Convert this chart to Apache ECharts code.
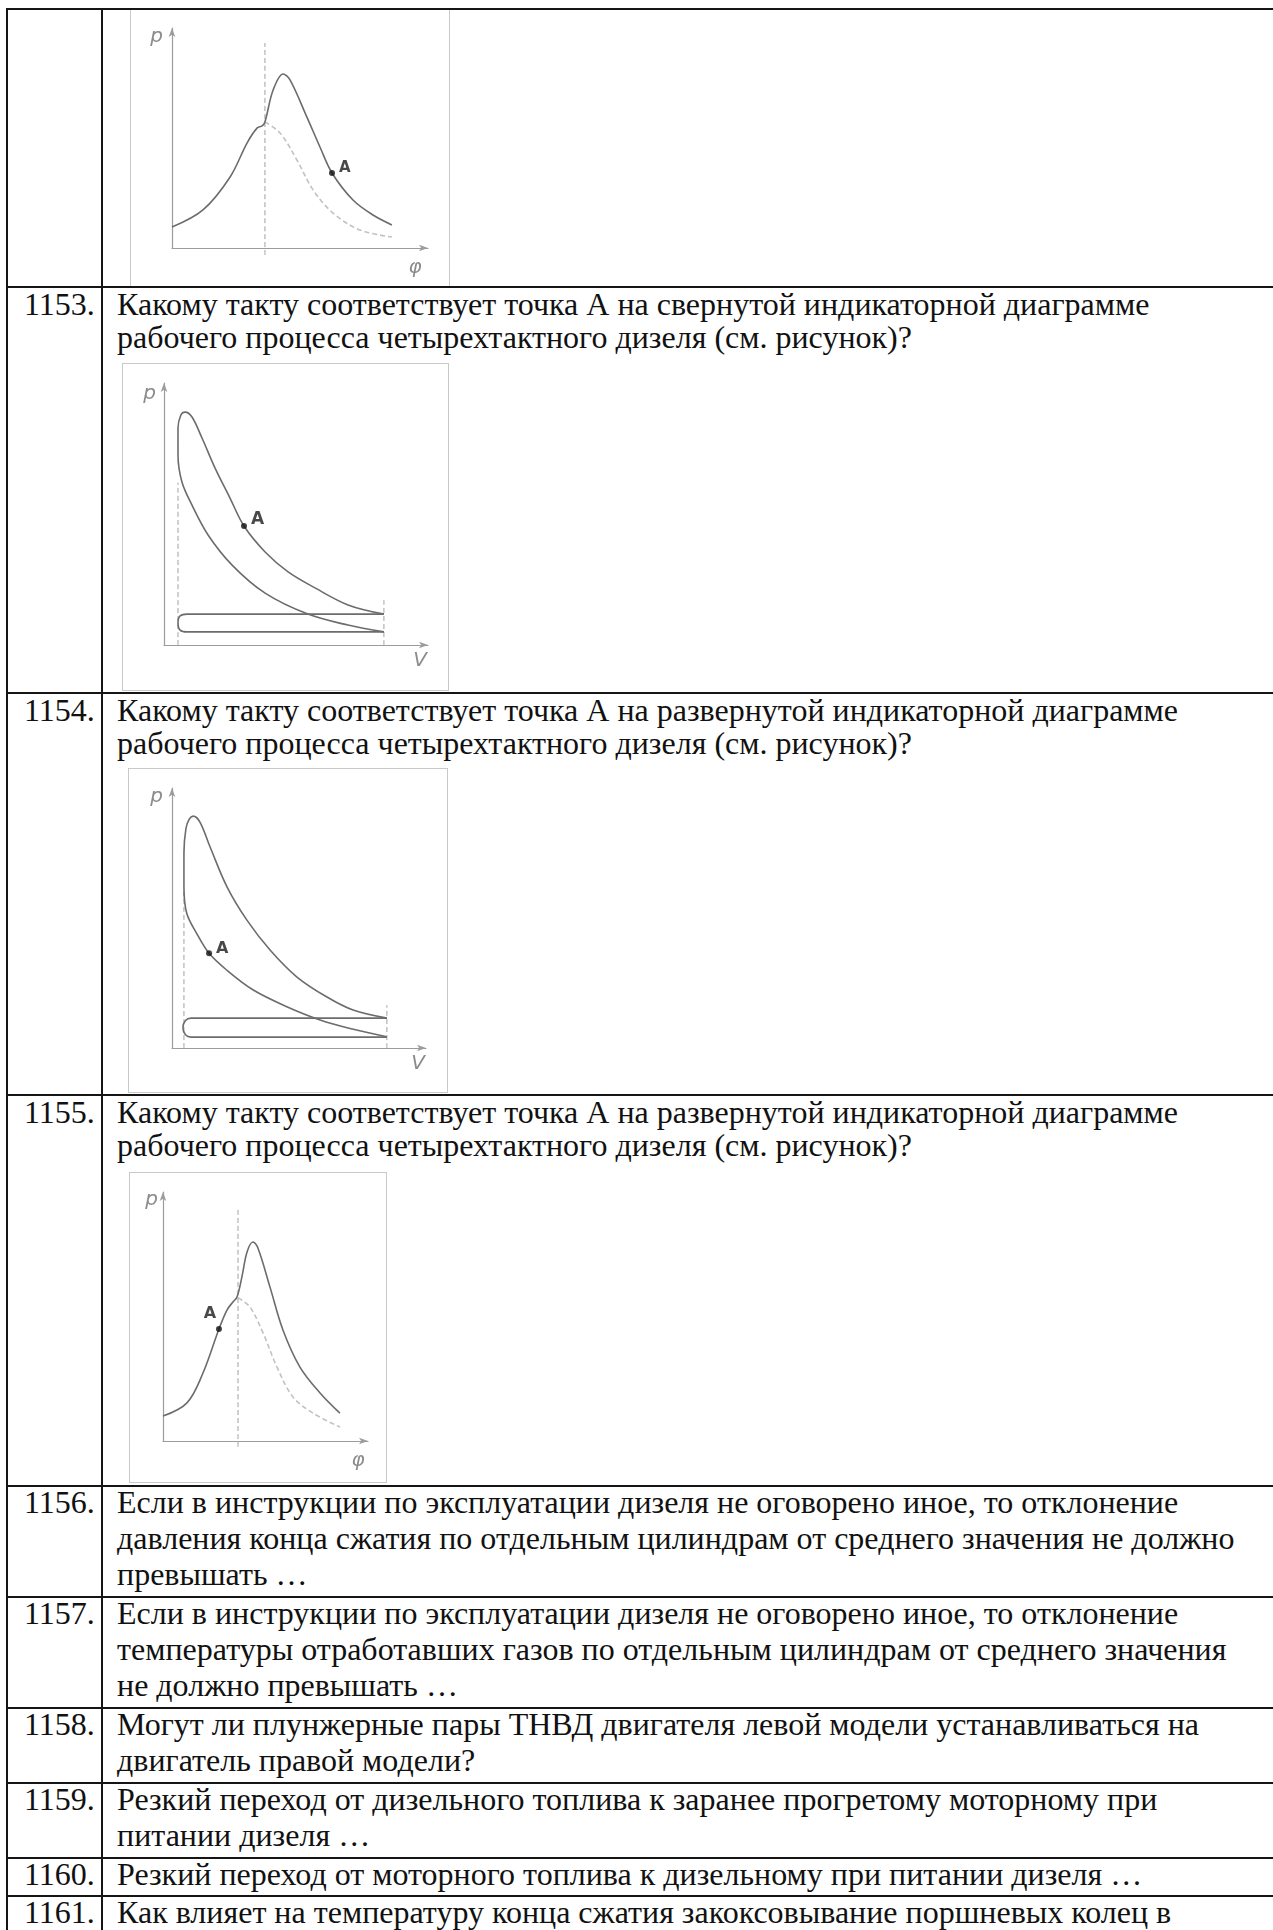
<!DOCTYPE html>
<html>
<head>
<meta charset="utf-8">
<script src="https://cdn.jsdelivr.net/npm/echarts@6/dist/echarts.min.js"></script>
<style>
  html, body { margin: 0; padding: 0; background: #fff; }
  #page { position: relative; width: 1273px; height: 1930px; overflow: hidden; background: #fff; }
  .hline { position: absolute; left: 6px; width: 1300px; height: 2px; background: #151515; }
  .vline { position: absolute; top: 9px; width: 2px; height: 1930px; background: #151515; }
  .box { position: absolute; border: 1.5px solid #c9c9c9; box-sizing: border-box; background: #fff; }
  .num, .txt { position: absolute; font-family: "Liberation Serif", "Times New Roman", serif; color: #111; white-space: nowrap; }
  .num { left: 24px; }
  .txt { left: 117px; }
  #chart { position: absolute; left: 0; top: 0; width: 1273px; height: 1930px; }
</style>
</head>
<body>
<div id="page"><div id="chart"></div></div>
<script>
// ---------- table content ----------
const questionNumbers = ['1153.', '1154.', '1155.', '1156.', '1157.', '1158.', '1159.', '1160.', '1161.'];
const questionLines = [
  ['Какому такту соответствует точка А на свернутой индикаторной диаграмме', 'рабочего процесса четырехтактного дизеля (см. рисунок)?'],
  ['Какому такту соответствует точка А на развернутой индикаторной диаграмме', 'рабочего процесса четырехтактного дизеля (см. рисунок)?'],
  ['Какому такту соответствует точка А на развернутой индикаторной диаграмме', 'рабочего процесса четырехтактного дизеля (см. рисунок)?'],
  ['Если в инструкции по эксплуатации дизеля не оговорено иное, то отклонение', 'давления конца сжатия по отдельным цилиндрам от среднего значения не должно', 'превышать …'],
  ['Если в инструкции по эксплуатации дизеля не оговорено иное, то отклонение', 'температуры отработавших газов по отдельным цилиндрам от среднего значения', 'не должно превышать …'],
  ['Могут ли плунжерные пары ТНВД двигателя левой модели устанавливаться на', 'двигатель правой модели?'],
  ['Резкий переход от дизельного топлива к заранее прогретому моторному при', 'питании дизеля …'],
  ['Резкий переход от моторного топлива к дизельному при питании дизеля …'],
  ['Как влияет на температуру конца сжатия закоксовывание поршневых колец в']
];

// ---------- diagram data (axis units 0..100) ----------
// Fig 1: p–φ diagram, point A on expansion
const fig1Solid = [[0,9.5],[12.1,17.3],[22.7,32.3],[29.3,47.7],[33.2,54.5],[35.2,55.5],[36.3,57.3],[39.5,71.8],[43.4,79.1],[46.1,76.4],[52.7,59.5],[57.8,45.9],[62.5,34.1],[70.7,21.8],[78.5,15],[85.9,10.5]];
const fig1Dashed = [[36.3,57.3],[42.2,52.3],[48.8,40],[55.1,26.4],[62.9,15.9],[73.4,8.2],[85.9,5]];
const fig1Tdc = [[36.3,-3.2],[36.3,93.2]];
const fig1A = [[62.5,34.1]];

// Fig 2: p–V diagram, point A on expansion line
const fig2Compression = [[83.3,5.0],[69.7,7.6],[54.5,11.8],[38.3,19.8],[25.8,30.5],[16.7,42.0],[10.6,53.4],[6.8,62.2],[5.3,72.5],[5.3,82.8],[6.4,87.8]];
const fig2Expansion = [[8.0,88.9],[10.6,87.0],[14.4,79.0],[19.3,67.6],[25.0,56.1],[30.3,45.4],[38.3,35.5],[47.0,27.9],[57.2,21.8],[69.7,15.3],[83.3,11.8]];
const fig2Pump = [[83.3,11.8],[8.7,11.8],[6.1,11.1],[5.3,8.4],[6.1,5.7],[8.7,5.0],[83.3,5.0]];
const fig2Vc = [[5.3,0],[5.3,62]];
const fig2Va = [[83.3,0],[83.3,17.2]];
const fig2A = [[30.3,45.4]];

// Fig 3: p–V diagram, point A on compression line
const fig3Compression = [[84.5,4.3],[71.4,7.2],[58.3,10.8],[45.2,15.9],[32.0,22.3],[21.5,30.0],[14.6,36.4],[9.7,44.1],[5.8,51.8],[4.7,62.0],[4.7,75.0],[5.5,84.5],[6.8,88.0]];
const fig3Expansion = [[8.3,89.2],[11.0,86.9],[15.0,77.3],[21.7,61.9],[29.5,49.2],[38.6,37.7],[49.2,27.3],[61.0,19.6],[71.3,14.6],[84.6,11.5]];
const fig3Pump = [[84.6,11.5],[7.5,11.5],[5.3,10.6],[4.3,7.8],[5.3,5.1],[7.5,4.2],[84.6,4.2]];
const fig3Vc = [[4.7,0],[4.7,60]];
const fig3Va = [[84.6,0],[84.6,16.5]];
const fig3A = [[14.6,36.4]];

// Fig 4: p–φ diagram, point A on compression
const fig4Solid = [[0,10.0],[11.7,15.3],[19.5,27.3],[27.3,45.0],[31.2,52.6],[34.1,55.8],[36.1,57.8],[38.5,65.9],[41.0,75.9],[43.9,79.9],[46.3,77.5],[52.2,61.8],[58.5,44.6],[66.8,29.7],[76.6,19.3],[86.3,11.2]];
const fig4Dashed = [[36.6,57.6],[42.4,53.8],[48.8,43.4],[55.6,29.7],[63.4,17.7],[73.2,11.2],[86.3,5.6]];
const fig4Tdc = [[36.6,-2.4],[36.6,94]];
const fig4A = [[27.3,45.0]];

// ---------- layout (pixels) ----------
const rowTops = [9, 287, 693, 1095, 1486, 1597, 1708, 1783, 1858, 1896];
const boxes = [[130,9,320,278],[122,363,327,328],[128,768,320,325],[129,1172,258,311]];
const grids = [
  {left:172, top:28, width:256, height:220},
  {left:164, top:383, width:264, height:262},
  {left:172, top:788, width:254, height:260},
  {left:163, top:1192, width:205, height:249}
];

const page = document.getElementById('page');
function add(cls, css, html) {
  const d = document.createElement('div');
  d.className = cls;
  Object.assign(d.style, css);
  if (html !== undefined) d.innerHTML = html;
  page.insertBefore(d, document.getElementById('chart'));
  return d;
}
boxes.forEach(b => add('box', {left:b[0]+'px', top:b[1]+'px', width:b[2]+'px', height:b[3]+'px'}));
rowTops.forEach(y => add('hline', {top:(y-1)+'px'}));
add('vline', {left:'6px'});
add('vline', {left:'101px'});
questionNumbers.forEach((n, i) => {
  const top = rowTops[i+1];
  const upper = i < 3;
  const lh = upper ? 33 : 36;
  const off = upper ? 0.7 : -1.8;
  const css = {top:(top+off)+'px', fontSize:'32px', lineHeight:lh+'px'};
  add('num', css, n);
  add('txt', css, questionLines[i].join('<br>'));
});

// ---------- chart ----------
const AX = '#9c9c9c', CURVE = '#6c6c6c', LIGHT = '#c2c2c2', DASH = '#a0a0a0';
function xAx(gi, name, gap, lh) {
  return {gridIndex:gi, type:'value', min:0, max:100,
    axisLine:{show:true, onZero:false, symbol:['none','arrow'], symbolSize:[5,9], lineStyle:{color:AX, width:1.2}},
    axisTick:{show:false}, axisLabel:{show:false}, splitLine:{show:false},
    name:name, nameLocation:'end', nameGap:gap,
    nameTextStyle:{fontFamily:'DejaVu Sans', fontStyle:'italic', fontSize:20, color:'#8c8c8c', align:'center', verticalAlign:'top', lineHeight:lh}};
}
function yAx(gi, gap, padR) {
  return {gridIndex:gi, type:'value', min:0, max:100,
    axisLine:{show:true, onZero:false, symbol:['none','arrow'], symbolSize:[5,9], lineStyle:{color:AX, width:1.2}},
    axisTick:{show:false}, axisLabel:{show:false}, splitLine:{show:false},
    name:'p', nameLocation:'end', nameGap:gap,
    nameTextStyle:{fontFamily:'DejaVu Sans', fontStyle:'italic', fontSize:20, color:'#8c8c8c', align:'right', verticalAlign:'middle', padding:[0,padR,0,0]}};
}
function curve(gi, data, opts) {
  return Object.assign({type:'line', xAxisIndex:gi, yAxisIndex:gi, data:data, smooth:0.35, showSymbol:false, silent:true,
    lineStyle:{color:CURVE, width:1.6}}, opts || {});
}
function dashed(gi, data, color, w) {
  return {type:'line', xAxisIndex:gi, yAxisIndex:gi, data:data, smooth:0.35, showSymbol:false, silent:true, clip:false,
    lineStyle:{color:color, width:w, type:[5,3]}};
}
function marker(gi, data, pos, offset, fs) {
  return {type:'scatter', xAxisIndex:gi, yAxisIndex:gi, data:data, symbolSize:6, silent:true, z:5,
    itemStyle:{color:'#111'},
    label:{show:true, formatter:'A', position:pos, distance:4, offset:offset,
      fontFamily:'DejaVu Sans', fontWeight:'bold', fontSize:fs, color:'#1a1a1a'}};
}

const option = {
  animation:false,
  backgroundColor:'transparent',
  grid: grids.map(g => Object.assign({containLabel:false}, g)),
  xAxis: [xAx(0,'φ',-13,40), xAx(1,'V',-8,32), xAx(2,'V',-8,32), xAx(3,'φ',-10,40)],
  yAxis: [yAx(0,-9,9), yAx(1,-11,8), yAx(2,-9,9), yAx(3,-8,5)],
  series: [
    dashed(0, fig1Tdc, DASH, 1),
    dashed(0, fig1Dashed, LIGHT, 1.6),
    curve(0, fig1Solid),
    marker(0, fig1A, 'right', [0,-5], 15),

    dashed(1, fig2Vc, DASH, 1),
    dashed(1, fig2Va, DASH, 1),
    curve(1, fig2Pump, {smooth:0.5}),
    curve(1, fig2Compression.concat(fig2Expansion)),
    marker(1, fig2A, 'right', [0,-6], 17),

    dashed(2, fig3Vc, DASH, 1),
    dashed(2, fig3Va, DASH, 1),
    curve(2, fig3Pump, {smooth:0.5}),
    curve(2, fig3Compression.concat(fig3Expansion)),
    marker(2, fig3A, 'right', [0,-5], 16),

    dashed(3, fig4Tdc, DASH, 1),
    dashed(3, fig4Dashed, LIGHT, 1.6),
    curve(3, fig4Solid),
    marker(3, fig4A, 'top', [-9,0], 16)
  ]
};
const chart = echarts.init(document.getElementById('chart'), null, {width:1273, height:1930});
chart.setOption(option);
</script>
</body>
</html>
